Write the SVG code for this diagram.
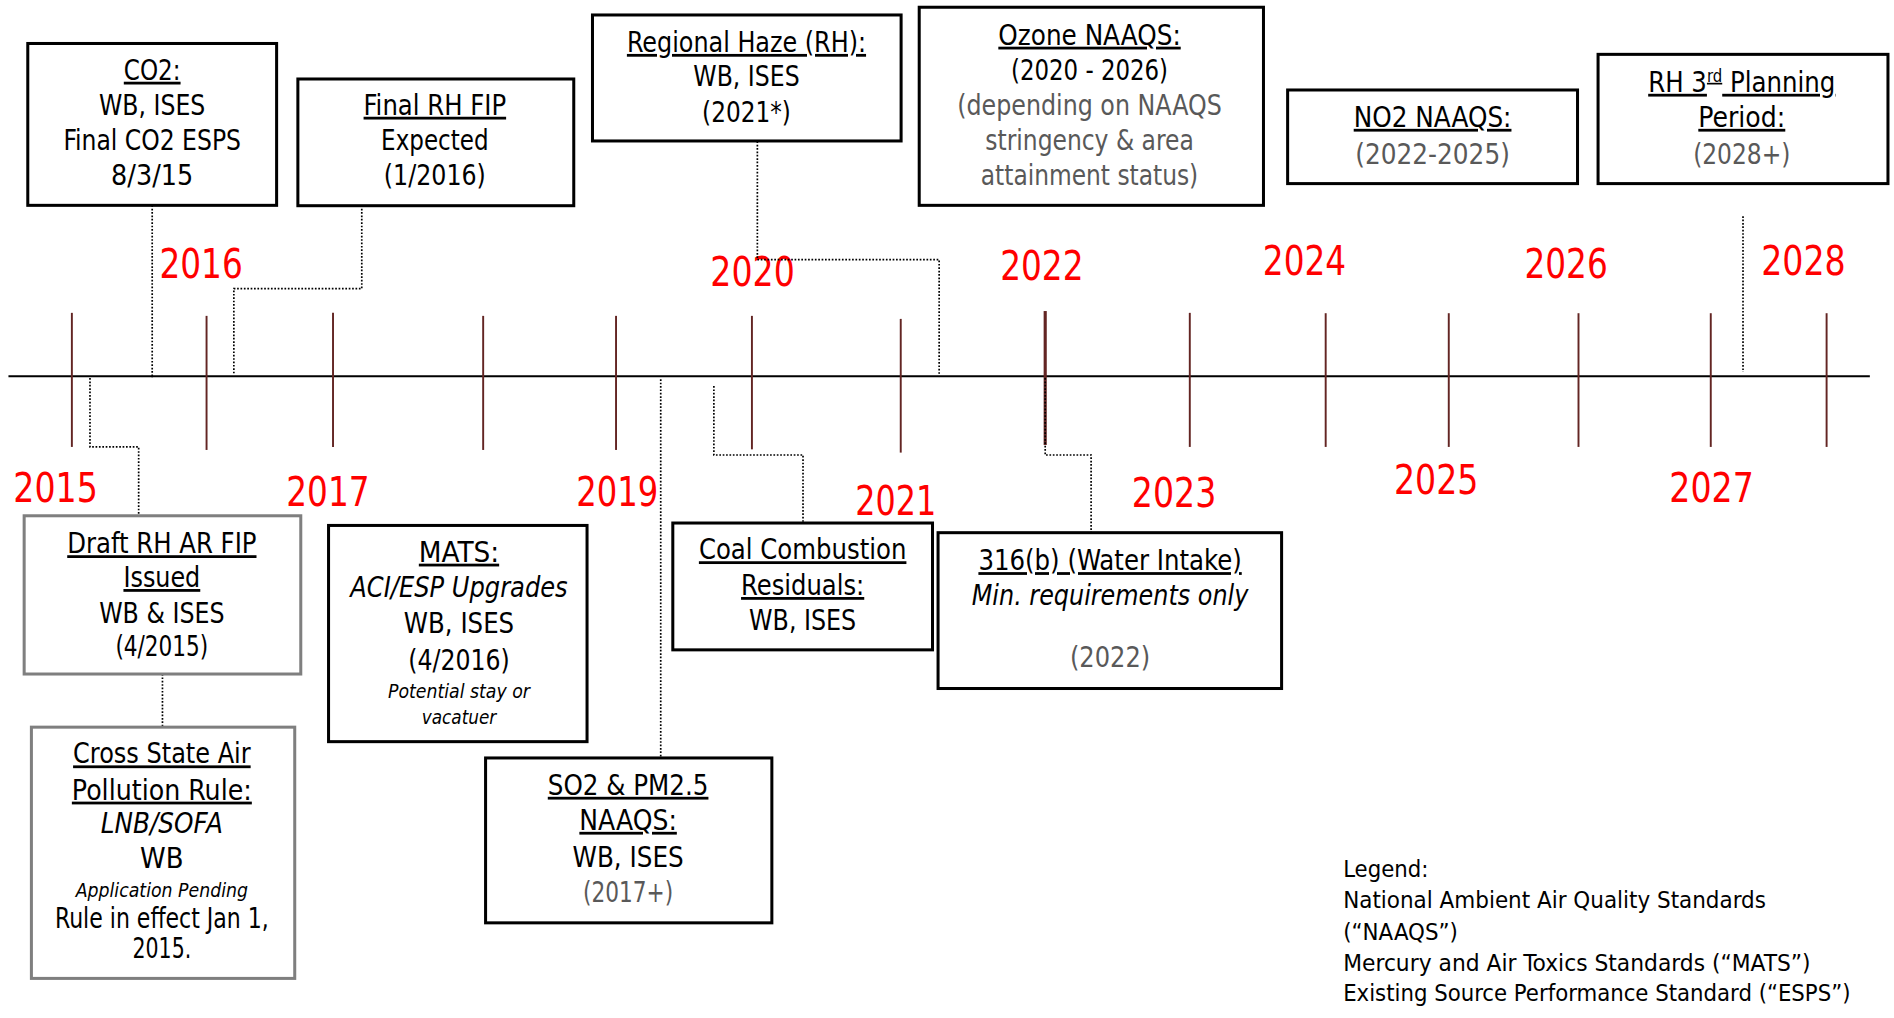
<svg xmlns="http://www.w3.org/2000/svg" width="1894" height="1018" viewBox="0 0 1894 1018">
<style>
.t{font-family:"Liberation Sans Narrow","DejaVu Sans Condensed","Liberation Sans",sans-serif;font-size:23px;fill:#000;text-anchor:middle}
.u{text-decoration:underline}
.g{fill:#595959}
.i{font-style:italic}
.s{font-size:16px}
.lg{text-anchor:start;font-size:18.5px}
.yr{font-family:"Liberation Sans Narrow","DejaVu Sans Condensed","Liberation Sans",sans-serif;font-size:34px;fill:#ff0000;text-anchor:middle}
.box{fill:#fff;stroke:#000;stroke-width:2.5}
.gbox{fill:#fff;stroke:#7f7f7f;stroke-width:2.5}
.tick{stroke:#632523;stroke-width:1.6}
.dot{fill:none;stroke:#000;stroke-width:1.4;stroke-dasharray:1.4 1.4}
.axis{stroke:#000;stroke-width:1.6}
</style>
<rect width="1894" height="1018" fill="#fff"/>
<g transform="scale(1.20791)">
<g id="timeline">
<line class="axis" x1="7" y1="311.5" x2="1548" y2="311.5"/>
<line class="tick" x1="59.5" y1="259" x2="59.5" y2="370"/>
<line class="tick" x1="171" y1="261.5" x2="171" y2="372.5"/>
<line class="tick" x1="275.7" y1="259" x2="275.7" y2="370"/>
<line class="tick" x1="400" y1="261.5" x2="400" y2="372.5"/>
<line class="tick" x1="510" y1="261.5" x2="510" y2="372.5"/>
<line class="tick" x1="622.5" y1="261.5" x2="622.5" y2="372"/>
<line class="tick" x1="745.7" y1="264" x2="745.7" y2="374.7"/>
<line class="tick" x1="865.3" y1="257.5" x2="865.3" y2="368.4" style="stroke-width:2.6"/>
<line class="tick" x1="985" y1="259" x2="985" y2="370"/>
<line class="tick" x1="1097.5" y1="259.3" x2="1097.5" y2="370"/>
<line class="tick" x1="1199.4" y1="259.3" x2="1199.4" y2="370"/>
<line class="tick" x1="1306.8" y1="259.3" x2="1306.8" y2="370"/>
<line class="tick" x1="1416.3" y1="259.3" x2="1416.3" y2="370"/>
<line class="tick" x1="1512.2" y1="259.3" x2="1512.2" y2="370"/>
</g>
<g id="years">
<text class="yr" x="46" y="416" textLength="70" lengthAdjust="spacingAndGlyphs">2015</text>
<text class="yr" x="166.5" y="230.5" textLength="69" lengthAdjust="spacingAndGlyphs">2016</text>
<text class="yr" x="271.5" y="419" textLength="69" lengthAdjust="spacingAndGlyphs">2017</text>
<text class="yr" x="511" y="419" textLength="68" lengthAdjust="spacingAndGlyphs">2019</text>
<text class="yr" x="623" y="236.5" textLength="70" lengthAdjust="spacingAndGlyphs">2020</text>
<text class="yr" x="741.5" y="426" textLength="67" lengthAdjust="spacingAndGlyphs">2021</text>
<text class="yr" x="862.5" y="232" textLength="69" lengthAdjust="spacingAndGlyphs">2022</text>
<text class="yr" x="972" y="419.5" textLength="70" lengthAdjust="spacingAndGlyphs">2023</text>
<text class="yr" x="1080" y="227.7" textLength="69" lengthAdjust="spacingAndGlyphs">2024</text>
<text class="yr" x="1189" y="409" textLength="70" lengthAdjust="spacingAndGlyphs">2025</text>
<text class="yr" x="1296.5" y="230" textLength="69" lengthAdjust="spacingAndGlyphs">2026</text>
<text class="yr" x="1417" y="416" textLength="70" lengthAdjust="spacingAndGlyphs">2027</text>
<text class="yr" x="1493" y="227.7" textLength="70" lengthAdjust="spacingAndGlyphs">2028</text>
</g>
<g id="connectors">
<polyline class="dot" points="126,170 126,313"/>
<polyline class="dot" points="299.5,170 299.5,239 193.6,239 193.6,309"/>
<polyline class="dot" points="74.5,313 74.5,370 114.8,370 114.8,427"/>
<polyline class="dot" points="134.5,558 134.5,602"/>
<polyline class="dot" points="627,117 627,215 777.5,215 777.5,310"/>
<polyline class="dot" points="547,314 547,627.5"/>
<polyline class="dot" points="591,319.6 591,376.7 664.8,376.7 664.8,433"/>
<polyline class="dot" points="865.3,313 865.3,376.7 903.3,376.7 903.3,441"/>
<polyline class="dot" points="1443,179 1443,308"/>
</g>
<g id="co2">
<rect class="box" x="23" y="36" width="206" height="134"/>
<text class="t u" x="126" y="66" textLength="47" lengthAdjust="spacingAndGlyphs">CO2:</text>
<text class="t" x="126" y="95" textLength="88" lengthAdjust="spacingAndGlyphs">WB, ISES</text>
<text class="t" x="126" y="124" textLength="147" lengthAdjust="spacingAndGlyphs">Final CO2 ESPS</text>
<text class="t" x="126" y="153" textLength="68" lengthAdjust="spacingAndGlyphs">8/3/15</text>
</g>
<g id="final-rh-fip">
<rect class="box" x="246.6" y="65.4" width="228.4" height="104.9"/>
<text class="t u" x="360" y="95" textLength="118" lengthAdjust="spacingAndGlyphs">Final RH FIP</text>
<text class="t" x="360" y="124" textLength="89" lengthAdjust="spacingAndGlyphs">Expected</text>
<text class="t" x="360" y="153" textLength="84.5" lengthAdjust="spacingAndGlyphs">(1/2016)</text>
</g>
<g id="regional-haze">
<rect class="box" x="490.5" y="12.4" width="255.5" height="104.3"/>
<text class="t u" x="618" y="43" textLength="198" lengthAdjust="spacingAndGlyphs">Regional Haze (RH):</text>
<text class="t" x="618" y="71" textLength="88" lengthAdjust="spacingAndGlyphs">WB, ISES</text>
<text class="t" x="618" y="101" textLength="73.5" lengthAdjust="spacingAndGlyphs">(2021*)</text>
</g>
<g id="ozone">
<rect class="box" x="761" y="6" width="285" height="164"/>
<text class="t u" x="902" y="37" textLength="151" lengthAdjust="spacingAndGlyphs">Ozone NAAQS:</text>
<text class="t" x="902" y="66" textLength="130" lengthAdjust="spacingAndGlyphs">(2020 - 2026)</text>
<text class="t g" x="902" y="95" textLength="219" lengthAdjust="spacingAndGlyphs">(depending on NAAQS</text>
<text class="t g" x="902" y="124" textLength="172.6" lengthAdjust="spacingAndGlyphs">stringency &amp; area</text>
<text class="t g" x="902" y="153" textLength="180" lengthAdjust="spacingAndGlyphs">attainment status)</text>
</g>
<g id="no2">
<rect class="box" x="1066" y="74.5" width="240" height="77.5"/>
<text class="t u" x="1186" y="105" textLength="130.6" lengthAdjust="spacingAndGlyphs">NO2 NAAQS:</text>
<text class="t g" x="1186" y="136" textLength="128" lengthAdjust="spacingAndGlyphs">(2022-2025)</text>
</g>
<g id="rh-3rd">
<rect class="box" x="1323" y="45" width="240" height="107"/>
<text class="t u" x="1442" y="76" textLength="155" lengthAdjust="spacingAndGlyphs">RH 3<tspan baseline-shift="super" font-size="14">rd</tspan> Planning</text>
<text class="t u" x="1442" y="105" textLength="72" lengthAdjust="spacingAndGlyphs">Period:</text>
<text class="t g" x="1442" y="136" textLength="80.6" lengthAdjust="spacingAndGlyphs">(2028+)</text>
</g>
<g id="draft-rh">
<rect class="gbox" x="20" y="427" width="229" height="131"/>
<text class="t u" x="134" y="458" textLength="156.7" lengthAdjust="spacingAndGlyphs">Draft RH AR FIP</text>
<text class="t u" x="134" y="486" textLength="63.6" lengthAdjust="spacingAndGlyphs">Issued</text>
<text class="t" x="134" y="515.5" textLength="103.8" lengthAdjust="spacingAndGlyphs">WB &amp; ISES</text>
<text class="t" x="134" y="543" textLength="76.9" lengthAdjust="spacingAndGlyphs">(4/2015)</text>
</g>
<g id="mats">
<rect class="box" x="272" y="435" width="214" height="179"/>
<text class="t u" x="380" y="465" textLength="66.5" lengthAdjust="spacingAndGlyphs">MATS:</text>
<text class="t i" x="380" y="494" textLength="180" lengthAdjust="spacingAndGlyphs">ACI/ESP Upgrades</text>
<text class="t" x="380" y="524" textLength="91.3" lengthAdjust="spacingAndGlyphs">WB, ISES</text>
<text class="t" x="380" y="555" textLength="84" lengthAdjust="spacingAndGlyphs">(4/2016)</text>
<text class="t i s" x="380" y="578" textLength="117.5" lengthAdjust="spacingAndGlyphs">Potential stay or</text>
<text class="t i s" x="380" y="599" textLength="61.7" lengthAdjust="spacingAndGlyphs">vacatuer</text>
</g>
<g id="csapr">
<rect class="gbox" x="26" y="602" width="218" height="208"/>
<text class="t u" x="134" y="632" textLength="147" lengthAdjust="spacingAndGlyphs">Cross State Air</text>
<text class="t u" x="134" y="662" textLength="149" lengthAdjust="spacingAndGlyphs">Pollution Rule:</text>
<text class="t i" x="134" y="690" textLength="101" lengthAdjust="spacingAndGlyphs">LNB/SOFA</text>
<text class="t" x="134" y="719" textLength="36" lengthAdjust="spacingAndGlyphs">WB</text>
<text class="t i s" x="134" y="743" textLength="142.7" lengthAdjust="spacingAndGlyphs">Application Pending</text>
<text class="t" x="134" y="768" textLength="177" lengthAdjust="spacingAndGlyphs">Rule in effect Jan 1,</text>
<text class="t" x="134" y="793" textLength="48.6" lengthAdjust="spacingAndGlyphs">2015.</text>
</g>
<g id="so2-pm25">
<rect class="box" x="402" y="627.5" width="237" height="136.5"/>
<text class="t u" x="520" y="658" textLength="133" lengthAdjust="spacingAndGlyphs">SO2 &amp; PM2.5</text>
<text class="t u" x="520" y="687" textLength="80.7" lengthAdjust="spacingAndGlyphs">NAAQS:</text>
<text class="t" x="520" y="717.5" textLength="92" lengthAdjust="spacingAndGlyphs">WB, ISES</text>
<text class="t g" x="520" y="747" textLength="74.7" lengthAdjust="spacingAndGlyphs">(2017+)</text>
</g>
<g id="ccr">
<rect class="box" x="557" y="433" width="215" height="105"/>
<text class="t u" x="664.5" y="463" textLength="171.8" lengthAdjust="spacingAndGlyphs">Coal Combustion</text>
<text class="t u" x="664.5" y="492.6" textLength="102" lengthAdjust="spacingAndGlyphs">Residuals:</text>
<text class="t" x="664.5" y="521.6" textLength="88.7" lengthAdjust="spacingAndGlyphs">WB, ISES</text>
</g>
<g id="water-intake">
<rect class="box" x="776.6" y="441" width="284.4" height="129"/>
<text class="t u" x="919" y="472" textLength="218" lengthAdjust="spacingAndGlyphs">316(b) (Water Intake)</text>
<text class="t i" x="919" y="501" textLength="229" lengthAdjust="spacingAndGlyphs">Min. requirements only</text>
<text class="t g" x="919" y="552" textLength="66.5" lengthAdjust="spacingAndGlyphs">(2022)</text>
</g>
<g id="legend">
<text class="t lg" x="1112" y="726" textLength="70.5" lengthAdjust="spacingAndGlyphs">Legend:</text>
<text class="t lg" x="1112" y="752" textLength="350" lengthAdjust="spacingAndGlyphs">National Ambient Air Quality Standards</text>
<text class="t lg" x="1112" y="778" textLength="95" lengthAdjust="spacingAndGlyphs">(“NAAQS”)</text>
<text class="t lg" x="1112" y="804" textLength="387" lengthAdjust="spacingAndGlyphs">Mercury and Air Toxics Standards (“MATS”)</text>
<text class="t lg" x="1112" y="829" textLength="420" lengthAdjust="spacingAndGlyphs">Existing Source Performance Standard (“ESPS”)</text>
</g>
</g>
</svg>
